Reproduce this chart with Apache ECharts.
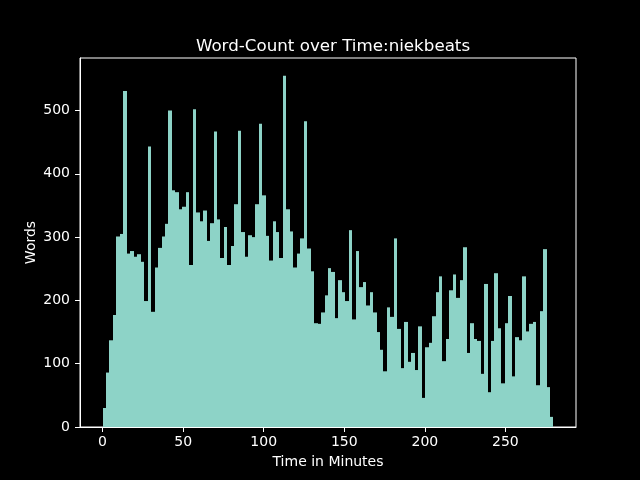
<!DOCTYPE html>
<html>
<head>
<meta charset="utf-8">
<script src="https://cdn.jsdelivr.net/npm/echarts@6/dist/echarts.min.js"></script>
<style>
  html, body { margin: 0; padding: 0; background: #000; }
  #main { width: 640px; height: 480px; }
</style>
</head>
<body>
<div id="main"></div>
<script>
// histogram of words per time bin (130 bins from 0 to 279.8 minutes)
var histRange = [0, 279.8];
var binCount = 130;
var wordCounts = [
  30, 86, 137, 177, 301, 305, 531, 274, 278, 269,
  273, 261, 199, 443, 182, 252, 283, 301, 321, 500,
  374, 371, 344, 348, 371, 256, 502, 339, 325, 342,
  294, 322, 467, 328, 267, 316, 256, 286, 352, 468,
  308, 269, 303, 300, 352, 479, 366, 302, 263, 325,
  308, 267, 555, 344, 309, 252, 274, 298, 483, 282,
  246, 164, 163, 181, 208, 251, 245, 172, 232, 213,
  199, 311, 170, 278, 221, 229, 192, 213, 181, 150,
  122, 88, 189, 174, 298, 155, 93, 166, 103, 117,
  90, 159, 46, 126, 133, 175, 213, 238, 104, 139,
  216, 241, 204, 232, 284, 117, 164, 139, 136, 84,
  226, 55, 136, 243, 156, 69, 164, 207, 80, 142,
  137, 238, 151, 163, 166, 66, 183, 281, 63, 16
];
var xTicks = [0, 50, 100, 150, 200, 250];
var yTicks = [0, 100, 200, 300, 400, 500];

var binWidth = (histRange[1] - histRange[0]) / binCount;
var bins = wordCounts.map(function (v, i) {
  return [histRange[0] + i * binWidth, histRange[0] + (i + 1) * binWidth, v];
});

var font = 'DejaVu Sans';
var barColor = '#8dd3c7';
var myChart = echarts.init(document.getElementById('main'));
var option = {
  backgroundColor: '#000000',
  animation: false,
  title: {
    text: 'Word-Count over Time:niekbeats',
    left: 328,
    top: 33,
    textAlign: 'center',
    textStyle: { color: '#fff', fontFamily: font, fontSize: 16.7, fontWeight: 'normal' }
  },
  grid: {
    left: 80, top: 58, width: 496, height: 369,
    show: true, borderColor: '#fff', borderWidth: 1, backgroundColor: 'transparent'
  },
  xAxis: {
    type: 'value',
    min: -14,
    max: 293.8,
    name: 'Time in Minutes',
    nameLocation: 'middle',
    nameGap: 28,
    nameMoveOverlap: false,
    nameTextStyle: { color: '#fff', fontFamily: font, fontSize: 14 },
    axisLine: { show: true, lineStyle: { color: '#fff', width: 1 } },
    axisTick: { show: true, length: 5, lineStyle: { color: '#fff' }, customValues: xTicks },
    axisLabel: { color: '#fff', fontFamily: font, fontSize: 14, margin: 8, customValues: xTicks },
    splitLine: { show: false }
  },
  yAxis: {
    type: 'value',
    min: 0,
    max: 583,
    name: 'Words',
    nameLocation: 'middle',
    nameGap: 42,
    nameMoveOverlap: false,
    nameTextStyle: { color: '#fff', fontFamily: font, fontSize: 14 },
    axisLine: { show: true, onZero: false, lineStyle: { color: '#fff', width: 1 } },
    axisTick: { show: true, length: 5, lineStyle: { color: '#fff' }, customValues: yTicks },
    axisLabel: { color: '#fff', fontFamily: font, fontSize: 14, margin: 10, customValues: yTicks },
    splitLine: { show: false }
  },
  series: [{
    type: 'custom',
    data: bins,
    encode: { x: [0, 1], y: 2 },
    silent: true,
    z: 1,
    renderItem: function (params, api) {
      var p0 = api.coord([api.value(0), api.value(2)]);
      var p1 = api.coord([api.value(1), 0]);
      var x0 = Math.round(p0[0]), x1 = Math.round(p1[0]);
      return {
        type: 'rect',
        shape: { x: x0, y: p0[1], width: x1 - x0, height: p1[1] - p0[1] },
        style: { fill: barColor }
      };
    }
  }]
};
myChart.setOption(option);
</script>
</body>
</html>
